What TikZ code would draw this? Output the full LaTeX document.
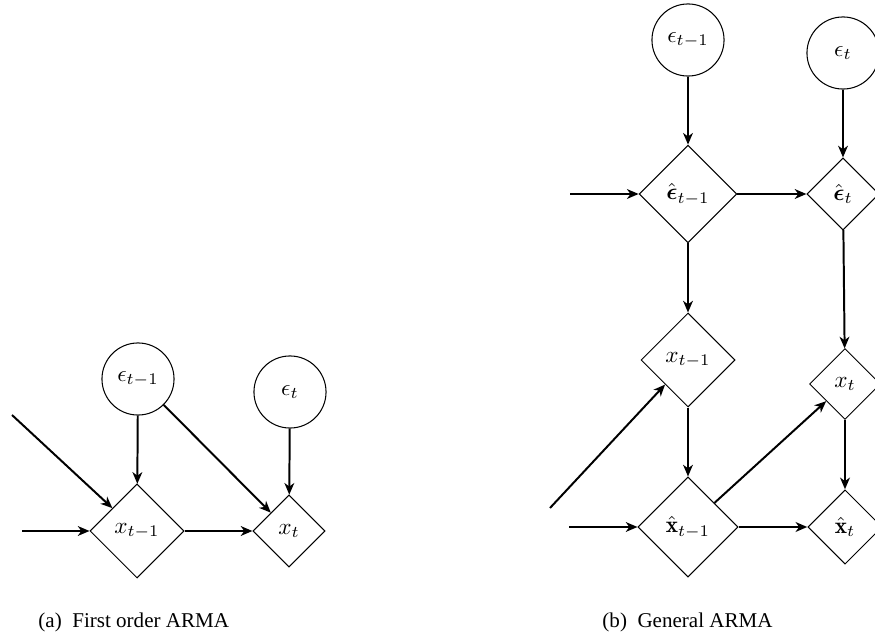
\documentclass[tikz,border=0pt]{standalone}
\usepackage{fontspec}
\usepackage{amsmath,amssymb}
\newfontfamily\capfont{Liberation Serif}
\usetikzlibrary{shapes.geometric,arrows.meta}

\tikzset{
  var/.style={circle, draw, line width=0.45pt, minimum size=31pt, inner sep=1pt},
  dia/.style={diamond, draw, line width=0.45pt, minimum size=#1, inner sep=0.5pt},
  link/.style={line width=0.85pt, -{Stealth[length=5pt,width=4.2pt,inset=1.5pt]}},
  captext/.style={anchor=base west, inner sep=0pt, font=\capfont\fontsize{9.05}{11}\selectfont}
}

\begin{document}
\begin{tikzpicture}[x=0.43pt, y=-0.43pt]
  \useasboundingbox (0,0) rectangle (875,637);
  \clip (0,0) rectangle (875,637);

  % (a) first order model
  \node[var] (ea) at (138,379) {$\epsilon_{t-1}$};
  \node[var] (eb) at (290,392) {$\epsilon_t$};
  \node[dia=40.4pt] (xa) at (137,531) {$x_{t-1}$};
  \node[dia=31pt]   (xb) at (289,531) {$x_t$};
  \coordinate (ina) at (22,531);
  \coordinate (inb) at (12,415);

  \draw[link] (ina) -- (xa);
  \draw[link] (inb) -- (xa);
  \draw[link] (ea) -- (xa);
  \draw[link] (ea) -- (xb);
  \draw[link] (eb) -- (xb);
  \draw[link] (xa) -- (xb);

  % (b) general model
  \node[var] (Ea) at (688,40) {$\epsilon_{t-1}$};
  \node[var] (Eb) at (843,53) {$\epsilon_t$};
  \node[dia=42pt]   (Ha) at (688,194) {$\hat{\boldsymbol{\epsilon}}_{t-1}$};
  \node[dia=31pt]   (Hb) at (843,194) {$\hat{\boldsymbol{\epsilon}}_t$};
  \node[dia=40.4pt] (Xa) at (688,360) {$x_{t-1}$};
  \node[dia=30.5pt] (Xb) at (845,384) {$x_t$};
  \node[dia=43pt]   (Ya) at (688,527) {$\hat{\mathbf{x}}_{t-1}$};
  \node[dia=32pt]   (Yb) at (845,527) {$\hat{\mathbf{x}}_t$};
  \coordinate (inH) at (570,194);
  \coordinate (inY) at (569,527);
  \coordinate (inX) at (550,508);

  \draw[link] (inH) -- (Ha);
  \draw[link] (Ea) -- (Ha);
  \draw[link] (Eb) -- (Hb);
  \draw[link] (Ha) -- (Hb);
  \draw[link] (Ha) -- (Xa);
  \draw[link] (Hb) -- (Xb);
  \draw[link] (inX) -- (Xa);
  \draw[link] (Xa) -- (Ya);
  \draw[link] (Xb) -- (Yb);
  \draw[link] (inY) -- (Ya);
  \draw[link] (Ya) -- (Yb);
  \draw[link] (Ya) -- (Xb);

  % captions
  \node[captext] (capa) at (38,628) {(a)\ \ First order ARMA};
  \node[captext] (capb) at (602,628) {(b)\ \ General ARMA};
\end{tikzpicture}
\end{document}
